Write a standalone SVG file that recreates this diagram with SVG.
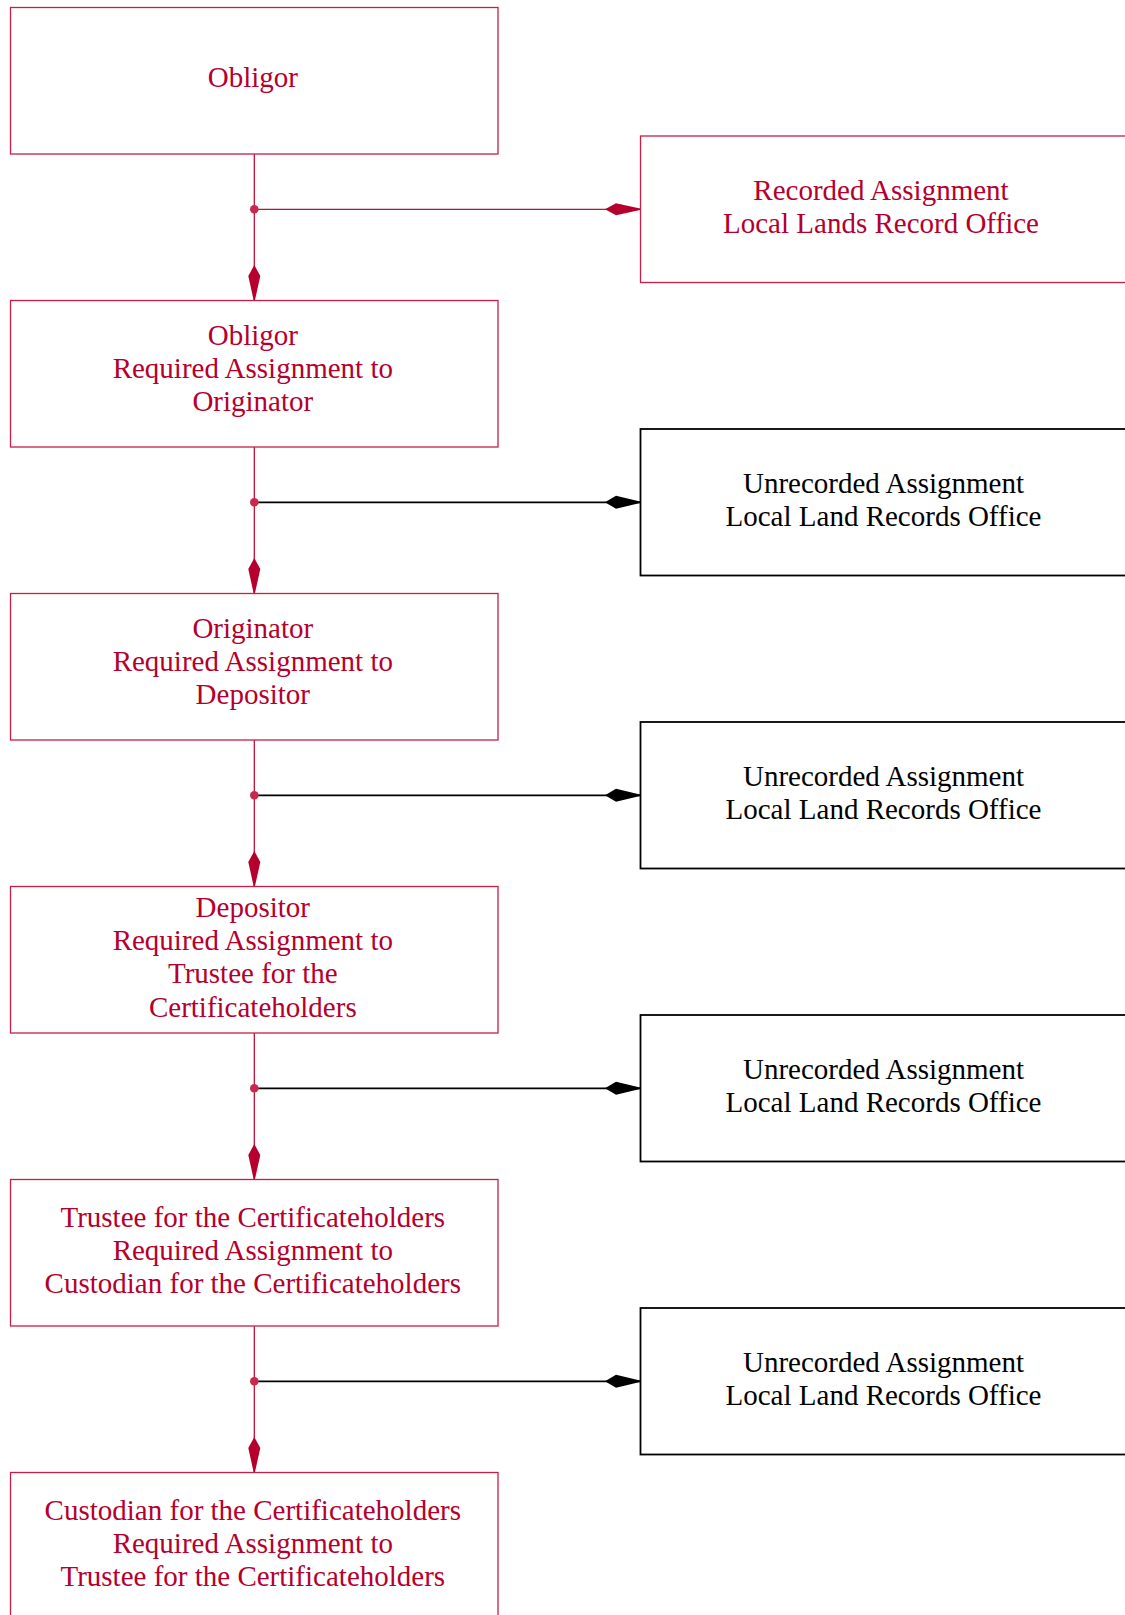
<svg xmlns="http://www.w3.org/2000/svg" width="1125" height="1615" viewBox="0 0 1125 1615">
<style>
.rbox{fill:#fff;stroke:#C81E46;stroke-width:1.3}
.kbox{fill:#fff;stroke:#000;stroke-width:1.8}
.rt{font-family:"Liberation Serif","Times New Roman",serif;font-size:29px;fill:#B5002D;text-anchor:middle}
.kt{font-family:"Liberation Serif","Times New Roman",serif;font-size:29px;fill:#000;text-anchor:middle}
.rl{stroke:#C0103A;stroke-width:1.3;fill:none}
.kl{stroke:#000;stroke-width:1.8;fill:none}
.dot{fill:#C8284C}
</style>
<defs>
<marker id="ar" markerUnits="userSpaceOnUse" markerWidth="36" markerHeight="14" refX="35" refY="7" orient="auto">
<path d="M0,7 L11,1 L35,6.3 L35,7.7 L11,13 Z" fill="#B5002D"/>
</marker>
<marker id="ak" markerUnits="userSpaceOnUse" markerWidth="36" markerHeight="14" refX="35" refY="7" orient="auto">
<path d="M0,7 L11,0.5 L35,6.2 L35,7.8 L11,13.5 Z" fill="#000"/>
</marker>
</defs>
<g id="connectors">
<line class="rl" x1="254.3" y1="154" x2="254.3" y2="300" marker-end="url(#ar)"/>
<line class="rl" x1="254.3" y1="447" x2="254.3" y2="593" marker-end="url(#ar)"/>
<line class="rl" x1="254.3" y1="740" x2="254.3" y2="886" marker-end="url(#ar)"/>
<line class="rl" x1="254.3" y1="1033" x2="254.3" y2="1179" marker-end="url(#ar)"/>
<line class="rl" x1="254.3" y1="1326" x2="254.3" y2="1472" marker-end="url(#ar)"/>
<line class="rl" x1="254.3" y1="209.3" x2="640" y2="209.3" marker-end="url(#ar)"/>
<line class="kl" x1="254.3" y1="502.3" x2="640" y2="502.3" marker-end="url(#ak)"/>
<line class="kl" x1="254.3" y1="795.3" x2="640" y2="795.3" marker-end="url(#ak)"/>
<line class="kl" x1="254.3" y1="1088.3" x2="640" y2="1088.3" marker-end="url(#ak)"/>
<line class="kl" x1="254.3" y1="1381.3" x2="640" y2="1381.3" marker-end="url(#ak)"/>
<circle class="dot" cx="254.3" cy="209.3" r="4.3"/>
<circle class="dot" cx="254.3" cy="502.3" r="4.3"/>
<circle class="dot" cx="254.3" cy="795.3" r="4.3"/>
<circle class="dot" cx="254.3" cy="1088.3" r="4.3"/>
<circle class="dot" cx="254.3" cy="1381.3" r="4.3"/>
</g>
<g id="n1">
<rect class="rbox" x="10.5" y="7.5" width="487.5" height="146.5"/>
<text class="rt" x="252.8" y="86.5">Obligor</text>
</g>
<g id="n2">
<rect class="rbox" x="10.5" y="300.5" width="487.5" height="146.5"/>
<text class="rt" x="252.8" y="344.5">Obligor</text>
<text class="rt" x="252.8" y="377.8">Required Assignment to</text>
<text class="rt" x="252.8" y="411.1">Originator</text>
</g>
<g id="n3">
<rect class="rbox" x="10.5" y="593.5" width="487.5" height="146.5"/>
<text class="rt" x="252.8" y="637.5">Originator</text>
<text class="rt" x="252.8" y="670.8">Required Assignment to</text>
<text class="rt" x="252.8" y="704.1">Depositor</text>
</g>
<g id="n4">
<rect class="rbox" x="10.5" y="886.5" width="487.5" height="146.5"/>
<text class="rt" x="252.8" y="916.7">Depositor</text>
<text class="rt" x="252.8" y="950">Required Assignment to</text>
<text class="rt" x="252.8" y="983.3">Trustee for the</text>
<text class="rt" x="252.8" y="1016.6">Certificateholders</text>
</g>
<g id="n5">
<rect class="rbox" x="10.5" y="1179.5" width="487.5" height="146.5"/>
<text class="rt" x="252.8" y="1226.5">Trustee for the Certificateholders</text>
<text class="rt" x="252.8" y="1259.8">Required Assignment to</text>
<text class="rt" x="252.8" y="1293.1">Custodian for the Certificateholders</text>
</g>
<g id="n6">
<rect class="rbox" x="10.5" y="1472.5" width="487.5" height="146.5"/>
<text class="rt" x="252.8" y="1519.5">Custodian for the Certificateholders</text>
<text class="rt" x="252.8" y="1552.8">Required Assignment to</text>
<text class="rt" x="252.8" y="1586.1">Trustee for the Certificateholders</text>
</g>
<g id="r1">
<rect class="rbox" x="640.5" y="136" width="487" height="146.5"/>
<text class="rt" x="881" y="199.7">Recorded Assignment</text>
<text class="rt" x="881" y="233">Local Lands Record Office</text>
</g>
<g id="r2">
<rect class="kbox" x="640.5" y="429" width="487" height="146.5"/>
<text class="kt" x="883.5" y="492.7">Unrecorded Assignment</text>
<text class="kt" x="883.5" y="526">Local Land Records Office</text>
</g>
<g id="r3">
<rect class="kbox" x="640.5" y="722" width="487" height="146.5"/>
<text class="kt" x="883.5" y="785.7">Unrecorded Assignment</text>
<text class="kt" x="883.5" y="819">Local Land Records Office</text>
</g>
<g id="r4">
<rect class="kbox" x="640.5" y="1015" width="487" height="146.5"/>
<text class="kt" x="883.5" y="1078.7">Unrecorded Assignment</text>
<text class="kt" x="883.5" y="1112">Local Land Records Office</text>
</g>
<g id="r5">
<rect class="kbox" x="640.5" y="1308" width="487" height="146.5"/>
<text class="kt" x="883.5" y="1371.7">Unrecorded Assignment</text>
<text class="kt" x="883.5" y="1405">Local Land Records Office</text>
</g>
</svg>
